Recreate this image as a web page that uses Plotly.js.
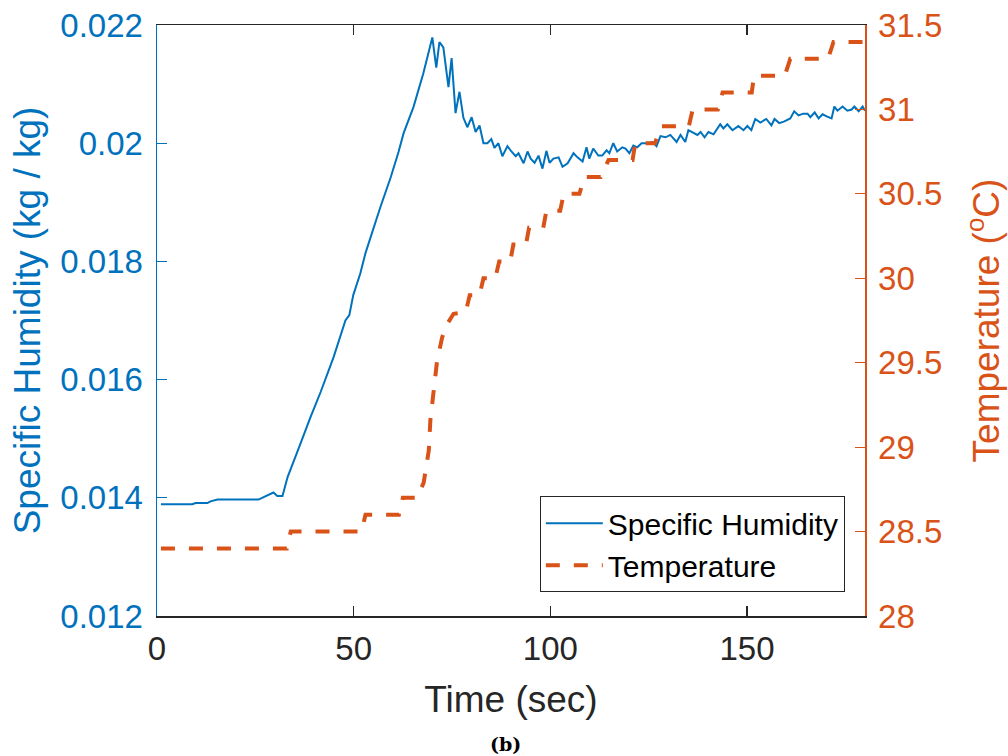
<!DOCTYPE html>
<html><head><meta charset="utf-8">
<script src="https://cdn.plot.ly/plotly-3.0.1.min.js"></script>
<style>body{margin:0;background:#fff}#chart{width:1008px;height:756px}</style>
</head><body><div id="chart"></div>
<script>
const humTime = [1, 9, 9.8, 12.8, 13.6, 15.4, 25.8, 28.3, 29.6, 30.6,
  31.9, 33.2, 34.4, 36.5, 39.0, 41.6, 44.9, 47.9, 48.9, 49.9,
  51.7, 53.0, 56.8, 59.4, 61.4, 62.7, 65.2, 67.0, 67.7, 70.0,
  71.0, 71.8, 72.8, 74.1, 74.9, 75.9, 76.9, 77.9, 78.9, 80.0,
  81.0, 82.0, 83.0, 84.0, 85.0, 85.8, 86.8, 87.8, 89.1, 90.1,
  91.2, 91.9, 93.2, 94.2, 95.0, 96.0, 97.0, 98.0, 99.0, 99.8,
  100.8, 102.1, 103.1, 104.4, 105.9, 106.9, 108.2, 109.2, 109.9, 110.9,
  112.2, 113.2, 114.3, 115.0, 116.0, 117.0, 118.3, 119.1, 120.1, 121.1,
  122.1, 123.2, 124.7, 126.0, 127.0, 128.0, 129.3, 130.5, 132.1, 133.1,
  134.3, 135.1, 136.4, 137.4, 138.2, 139.2, 140.2, 141.5, 143.2, 144.0,
  145.0, 146.3, 147.8, 149.1, 150.1, 151.1, 152.1, 153.4, 154.9, 156.2,
  157.0, 158.2, 159.5, 161.0, 162.0, 163.1, 164.3, 165.4, 166.1, 167.2,
  168.2, 169.2, 170.4, 171.5, 172.2, 173.0, 174.3, 175.5, 176.6, 177.3,
  178.4, 179.4, 180];
const humidity = [0.01389, 0.01389, 0.01391, 0.01391, 0.01394, 0.01397, 0.01397, 0.01404, 0.01409, 0.01403,
  0.01403, 0.01435, 0.01455, 0.01492, 0.01536, 0.01579, 0.01638, 0.01700, 0.01709, 0.01743,
  0.01780, 0.01814, 0.01892, 0.01942, 0.01985, 0.02017, 0.02061, 0.02101, 0.02118, 0.02179,
  0.02128, 0.02171, 0.02162, 0.02095, 0.02144, 0.02051, 0.02087, 0.02043, 0.02027, 0.02044,
  0.02019, 0.02030, 0.02000, 0.02000, 0.02007, 0.01992, 0.02000, 0.01978, 0.01995, 0.01986,
  0.01978, 0.01983, 0.01966, 0.01986, 0.01974, 0.01967, 0.01979, 0.01957, 0.01987, 0.01967,
  0.01974, 0.01976, 0.01960, 0.01966, 0.01983, 0.01976, 0.01969, 0.01993, 0.01974, 0.01991,
  0.01979, 0.01979, 0.01988, 0.01983, 0.02000, 0.01986, 0.01993, 0.01991, 0.01983, 0.01996,
  0.01993, 0.02000, 0.02000, 0.02002, 0.01995, 0.02012, 0.02010, 0.02014, 0.02002, 0.02014,
  0.02002, 0.02022, 0.02017, 0.02014, 0.02019, 0.02010, 0.02019, 0.02015, 0.02032, 0.02025,
  0.02032, 0.02022, 0.02029, 0.02022, 0.02029, 0.02022, 0.02041, 0.02035, 0.02041, 0.02030,
  0.02041, 0.02034, 0.02037, 0.02042, 0.02054, 0.02047, 0.02050, 0.02050, 0.02044, 0.02052,
  0.02042, 0.02049, 0.02045, 0.02042, 0.02062, 0.02055, 0.02062, 0.02055, 0.02057, 0.02062,
  0.02054, 0.02062, 0.02055];

const tempTime = [1, 33, 34, 52, 53, 61.5, 62.5, 65, 66.1, 67.8,
  69.1, 69.5, 70.4, 71.2, 72.5, 73.8, 75.4, 78.5, 79.5, 82,
  83, 86, 87, 89.8, 90.6, 93.8, 94.6, 98.2, 99, 102.5,
  103.4, 107.4, 108.6, 112.8, 114.8, 120.9, 121.6, 126.6, 128.2, 135.2,
  136.2, 142.6, 143.8, 151.2, 151.8, 159.6, 161, 170.6, 172, 180];
const temperature = [28.4, 28.4, 28.5, 28.5, 28.6, 28.6, 28.7, 28.7, 28.7, 28.79,
  28.98, 29.16, 29.36, 29.51, 29.65, 29.73, 29.79, 29.8, 29.9, 29.9,
  30.0, 30.0, 30.1, 30.1, 30.2, 30.2, 30.3, 30.3, 30.4, 30.4,
  30.5, 30.5, 30.6, 30.6, 30.7, 30.7, 30.8, 30.8, 30.9, 30.9,
  31.0, 31.0, 31.1, 31.1, 31.2, 31.2, 31.3, 31.3, 31.4, 31.4];

const xTicks = [0, 50, 100, 150];
const hTicks = [0.012, 0.014, 0.016, 0.018, 0.02, 0.022];
const hTickText = ['0.012', '0.014', '0.016', '0.018', '0.02', '0.022'];
const tTicks = [28, 28.5, 29, 29.5, 30, 30.5, 31, 31.5];
const tTickText = ['28', '28.5', '29', '29.5', '30', '30.5', '31', '31.5'];

const BLUE = '#0072BD', ORANGE = '#D95319', DARK = '#262626';
const FONT = 'Liberation Sans, Arial, Helvetica, sans-serif';

const traces = [
  {x: humTime, y: humidity, name: 'Specific Humidity', type: 'scatter', mode: 'lines',
   line: {color: BLUE, width: 2}, yaxis: 'y'},
  {x: tempTime, y: temperature, name: 'Temperature', type: 'scatter', mode: 'lines',
   line: {color: ORANGE, width: 4, dash: '14px,14px'}, yaxis: 'y2'}
];

const layout = {
  width: 1008, height: 756,
  margin: {l: 157, r: 143, t: 25, b: 140},
  paper_bgcolor: '#fff', plot_bgcolor: '#fff',
  font: {family: FONT, color: DARK},
  showlegend: true,
  xaxis: {
    range: [0, 180], tickvals: xTicks, ticktext: xTicks.map(String),
    ticks: 'inside', ticklen: 10, tickwidth: 1.2, tickcolor: DARK,
    showline: true, linecolor: DARK, linewidth: 1.5, mirror: 'ticks',
    showgrid: false, zeroline: false, ticklabelstandoff: 3,
    tickfont: {size: 33, color: DARK, family: FONT},
    title: {text: 'Time (sec)', font: {size: 37, color: DARK, family: FONT}, standoff: 20}
  },
  yaxis: {
    range: [0.012, 0.022], tickvals: hTicks, ticktext: hTickText,
    ticks: 'inside', ticklen: 10, tickwidth: 1.2, tickcolor: BLUE,
    showline: true, linecolor: BLUE, linewidth: 1.5,
    showgrid: false, zeroline: false, ticklabelstandoff: 6,
    tickfont: {size: 33, color: BLUE, family: FONT},
    title: {text: 'Specific Humidity (kg / kg)', font: {size: 37, color: BLUE, family: FONT}, standoff: 8}
  },
  yaxis2: {
    range: [28, 31.5], tickvals: tTicks, ticktext: tTickText,
    overlaying: 'y', side: 'right',
    ticks: 'inside', ticklen: 10, tickwidth: 1.2, tickcolor: ORANGE,
    showline: true, linecolor: ORANGE, linewidth: 1.5,
    showgrid: false, zeroline: false, ticklabelstandoff: 5,
    tickfont: {size: 33, color: ORANGE, family: FONT},
    title: {text: 'Temperature (<sup>o</sup>C)', font: {size: 37, color: ORANGE, family: FONT}, standoff: 32}
  },
  legend: {
    x: 0.9715, y: 0.04, xanchor: 'right', yanchor: 'bottom',
    bgcolor: '#fff', bordercolor: DARK, borderwidth: 1,
    font: {size: 30, color: '#000', family: FONT},
    itemwidth: 57, tracegroupgap: 0
  },
  annotations: [{
    text: '<b>(b)</b>', xref: 'paper', yref: 'paper', x: 0.4929, y: -0.217,
    xanchor: 'center', yanchor: 'middle', showarrow: false,
    font: {family: 'DejaVu Serif, Liberation Serif, serif', size: 19, color: '#000'}
  }]
};

Plotly.newPlot('chart', traces, layout, {displayModeBar: false, staticPlot: true});
</script>
</body></html>
